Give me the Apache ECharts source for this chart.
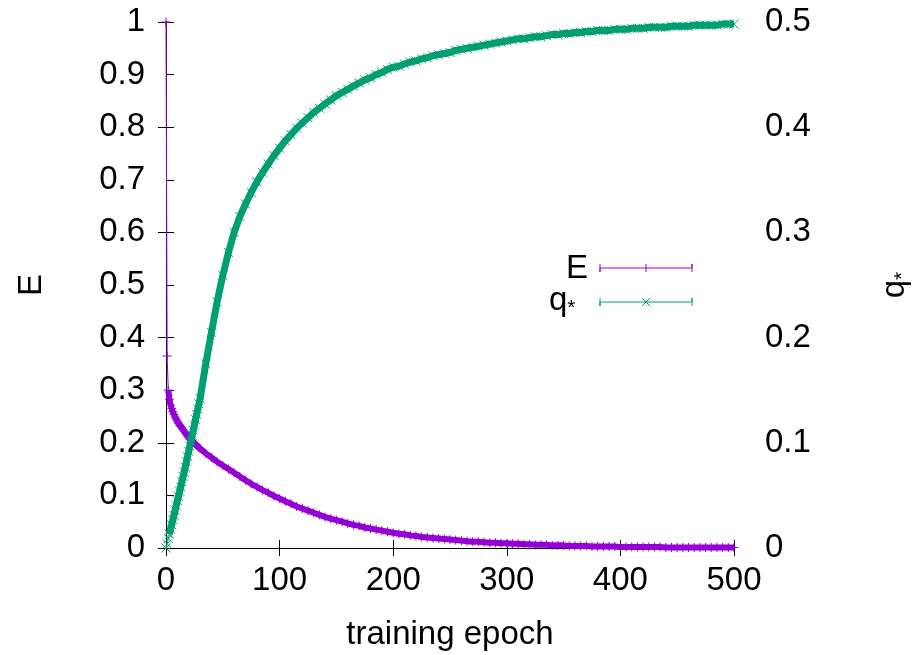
<!DOCTYPE html>
<html>
<head>
<meta charset="utf-8">
<script src="https://cdn.jsdelivr.net/npm/echarts@6/dist/echarts.min.js"></script>
<style>
  html, body { margin: 0; padding: 0; background: #fff; }
  #chart { width: 916px; height: 655px; }
</style>
</head>
<body>
<div id="chart"></div>
<script>
// epochs (every epoch at the start, then every 5)
var epochs = [0,1,2,3,4,5,6,7,8,9,10,11,12,13,14,15,16,17,18,19,20,21,22,23,24,25,26,27,28,29,30,
  35,40,45,50,55,60,65,70,75,80,85,90,95,100,105,110,115,120,125,130,135,140,145,150,155,160,165,170,175,180,185,190,195,200,
  205,210,215,220,225,230,235,240,245,250,255,260,265,270,275,280,285,290,295,300,305,310,315,320,325,330,335,340,345,350,
  355,360,365,370,375,380,385,390,395,400,405,410,415,420,425,430,435,440,445,450,455,460,465,470,475,480,485,490,495,500];

// E (left axis)
var eVals = [1.0,0.365,0.300,0.282,0.272,0.265,0.259,0.254,0.249,0.245,0.241,0.237,0.234,0.231,0.228,0.225,0.222,0.219,0.216,0.213,0.210,0.207,0.205,0.203,0.201,0.199,0.197,0.195,0.193,0.191,0.189,
  0.180,0.172,0.164,0.157,0.150,0.143,0.136,0.129,0.122,0.116,0.110,0.105,0.099,0.094,0.089,0.084,0.079,0.075,0.071,0.067,0.063,0.059,0.056,0.053,0.050,0.047,0.044,0.042,0.039,0.037,0.035,0.033,0.031,0.029,
  0.027,0.026,0.024,0.023,0.021,0.020,0.019,0.018,0.017,0.016,0.015,0.014,0.013,0.012,0.012,0.011,0.010,0.010,0.009,0.009,0.008,0.008,0.007,0.007,0.006,0.006,0.006,0.005,0.005,0.005,
  0.004,0.004,0.004,0.004,0.003,0.003,0.003,0.003,0.003,0.002,0.002,0.002,0.002,0.002,0.002,0.002,0.002,0.001,0.001,0.001,0.001,0.001,0.001,0.001,0.001,0.001,0.001,0.001,0.001,0.001];

// q* (right axis)
var qVals = [0,0.004,0.009,0.013,0.018,0.022,0.027,0.031,0.036,0.040,0.045,0.049,0.054,0.058,0.063,0.068,0.072,0.077,0.082,0.087,0.092,0.097,0.102,0.107,0.112,0.117,0.122,0.127,0.132,0.137,0.142,
  0.175,0.205,0.234,0.259,0.281,0.300,0.315,0.327,0.338,0.348,0.357,0.365,0.373,0.380,0.387,0.393,0.399,0.404,0.409,0.414,0.418,0.422,0.426,0.430,0.433,0.436,0.439,0.442,0.445,0.447,0.450,0.452,0.455,0.457,
  0.458,0.460,0.462,0.463,0.465,0.466,0.468,0.469,0.470,0.471,0.473,0.474,0.475,0.476,0.477,0.478,0.479,0.480,0.481,0.482,0.483,0.484,0.484,0.485,0.486,0.486,0.487,0.488,0.488,0.489,
  0.489,0.490,0.490,0.491,0.491,0.492,0.492,0.492,0.493,0.493,0.493,0.494,0.494,0.494,0.495,0.495,0.495,0.495,0.496,0.496,0.496,0.496,0.497,0.497,0.497,0.497,0.497,0.498,0.498,0.498];

var xTicks = [0, 100, 200, 300, 400, 500];

var purple = "#9400d3";
var green = "#009e73";
var font = "Liberation Sans, Arial, sans-serif";
var fs = 33;

var eData = epochs.map(function (x, i) { return [x, eVals[i]]; });
var qData = epochs.map(function (x, i) { return [x, qVals[i]]; });

var chart = echarts.init(document.getElementById("chart"));

var axisTxt = { color: "#000", fontSize: fs, fontFamily: font };
var tick = { show: true, inside: true, length: 8, lineStyle: { color: "#000" } };
var line = { show: true, lineStyle: { color: "#000", width: 1 } };
var star = { fontSize: 21, fontFamily: font, color: "#000", padding: [16, 0, 0, 0] };

chart.setOption({
  animation: false,
  grid: { left: 166, right: 182, top: 22, bottom: 107, outerBoundsMode: "none" },
  xAxis: [
    {
      type: "value",
      min: xTicks[0],
      max: xTicks[xTicks.length - 1],
      interval: 100,
      name: "training epoch",
      nameLocation: "middle",
      nameGap: 70,
      nameTextStyle: axisTxt,
      axisLine: line,
      axisTick: tick,
      axisLabel: Object.assign({ margin: 16 }, axisTxt),
      splitLine: { show: false }
    },
    {
      type: "value",
      position: "top",
      min: 0,
      max: 500,
      interval: 100,
      axisLine: line,
      axisTick: tick,
      axisLabel: { show: false },
      splitLine: { show: false }
    }
  ],
  yAxis: [
    {
      type: "value",
      min: 0,
      max: 1,
      interval: 0.1,
      name: "E",
      nameLocation: "middle",
      nameRotate: 90,
      nameGap: 118,
      nameTextStyle: axisTxt,
      axisLine: line,
      axisTick: tick,
      axisLabel: Object.assign({ margin: 21 }, axisTxt),
      splitLine: { show: false }
    },
    {
      type: "value",
      position: "right",
      min: 0,
      max: 0.5,
      interval: 0.1,
      name: "q{s|*}",
      nameLocation: "middle",
      nameRotate: 90,
      nameGap: 142,
      nameTextStyle: {
        color: "#000", fontSize: fs, fontFamily: font,
        rich: { s: star }
      },
      axisLine: line,
      axisTick: tick,
      axisLabel: Object.assign({ margin: 31 }, axisTxt),
      splitLine: { show: false }
    }
  ],
  graphic: [
    { type: "text", left: 566, top: 252, style: { text: "E", fill: "#000", fontSize: fs, fontFamily: font } },
    { type: "text", left: 549, top: 284, style: {
        text: "q{s|*}", fill: "#000", fontSize: fs, fontFamily: font,
        rich: { s: { fontSize: 21, fontFamily: font, fill: "#000", padding: [16, 0, 0, 0] } } } },
    { type: "polyline", shape: { points: [[600, 264], [600, 272], [600, 268], [692, 268], [692, 264], [692, 272]] }, style: { stroke: purple, lineWidth: 1, fill: null } },
    { type: "polyline", shape: { points: [[646, 264], [646, 272]] }, style: { stroke: purple, lineWidth: 1, fill: null } },
    { type: "polyline", shape: { points: [[600, 298], [600, 306], [600, 302], [692, 302], [692, 298], [692, 306]] }, style: { stroke: green, lineWidth: 1, fill: null } },
    { type: "polyline", shape: { points: [[642, 298], [650, 306]] }, style: { stroke: green, lineWidth: 1, fill: null } },
    { type: "polyline", shape: { points: [[642, 306], [650, 298]] }, style: { stroke: green, lineWidth: 1, fill: null } }
  ],
  series: [
    {
      // dense band of overlapping markers
      name: "E band",
      type: "line",
      yAxisIndex: 0,
      data: eData.slice(2),
      symbol: "none",
      silent: true,
      lineStyle: { color: purple, width: 6 },
      z: 2
    },
    {
      name: "E",
      type: "line",
      yAxisIndex: 0,
      data: eData,
      symbol: "path://M0,5 L10,5 M5,0 L5,10",
      symbolSize: 9,
      showAllSymbol: true,
      lineStyle: { color: purple, width: 1 },
      itemStyle: { color: purple, borderColor: purple, borderWidth: 1 },
      z: 2
    },
    {
      name: "q* band",
      type: "line",
      yAxisIndex: 1,
      data: qData.slice(3),
      symbol: "none",
      silent: true,
      lineStyle: { color: green, width: 7 },
      z: 3
    },
    {
      name: "q*",
      type: "line",
      yAxisIndex: 1,
      data: qData,
      symbol: "path://M0,0 L10,10 M0,10 L10,0",
      symbolSize: 9,
      showAllSymbol: true,
      lineStyle: { color: green, width: 1 },
      itemStyle: { color: green, borderColor: green, borderWidth: 1 },
      z: 3
    }
  ]
});
</script>
</body>
</html>
